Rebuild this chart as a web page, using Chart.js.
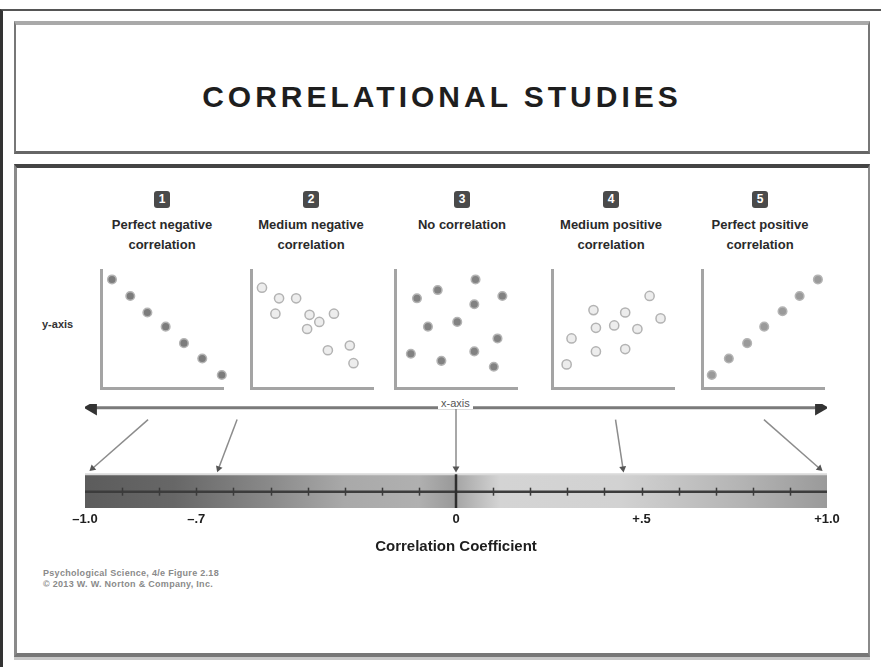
<!DOCTYPE html>
<html>
<head>
<meta charset="utf-8">
<script src="https://cdn.jsdelivr.net/npm/chart.js"></script>
<style>
  html, body { margin: 0; padding: 0; background: #fff; }
  body { width: 881px; height: 667px; position: relative; overflow: hidden; font-family: "Liberation Sans", Arial, sans-serif; }
  .abs { position: absolute; }
  #outer { left: 0; top: 9px; width: 881px; height: 660px; border-top: 2px solid #555; border-left: 3px solid #333; box-sizing: border-box; }
  #titleBox { left: 14px; top: 21px; width: 856px; height: 133px; box-sizing: border-box;
    border-top: 4px solid #a9a9a9; border-left: 2px solid #777; border-right: 2px solid #777; border-bottom: 3px solid #666; }
  #title { left: 14px; top: 82px; width: 856px; text-align: center; font-size: 30px; line-height: 30px;
    font-weight: bold; letter-spacing: 4px; color: #1e1e1e; }
  #mainBox { left: 14px; top: 164px; width: 856px; height: 493px; box-sizing: border-box;
    border-top: 4px solid #444; border-left: 3px solid #8a8a8a; border-right: 2px solid #8a8a8a; border-bottom: 4px solid #777;
    box-shadow: 0 3px 0 #c8c8c8; }
  .badge { width: 16px; height: 17px; margin-left: -8px; background: #4a4a4a; color: #fff; border-radius: 3px;
    font-size: 12px; font-weight: bold; line-height: 17px; text-align: center; top: 191px; }
  .lbl { width: 150px; margin-left: -75px; text-align: center; font-size: 13px; font-weight: bold; line-height: 20px;
    color: #2a2a2a; top: 215px; }
  #yLabel { left: 42px; top: 318px; font-size: 11px; font-weight: bold; color: #333; }
  #xLabel { left: 438px; top: 397px; padding: 0 3px; background: #fff; font-size: 11px; color: #555; }
  #credit { left: 43px; top: 568px; font-size: 9px; line-height: 11px; font-weight: bold; color: #8a8a8a; letter-spacing: 0.3px; }
  canvas { position: absolute; }
</style>
</head>
<body>
<div id="outer" class="abs"></div>
<div id="titleBox" class="abs"></div>
<div id="title" class="abs">CORRELATIONAL STUDIES</div>
<div id="mainBox" class="abs"></div>

<div id="headers"></div>
<div id="yLabel" class="abs">y-axis</div>

<canvas id="p1" width="138" height="134"></canvas>
<canvas id="p2" width="138" height="134"></canvas>
<canvas id="p3" width="138" height="134"></canvas>
<canvas id="p4" width="138" height="134"></canvas>
<canvas id="p5" width="138" height="134"></canvas>

<canvas id="spectrum" width="881" height="165" style="left:0;top:395px;"></canvas>
<div id="xLabel" class="abs">x-axis</div>

<div id="credit" class="abs">Psychological Science, 4/e Figure 2.18<br>© 2013 W. W. Norton &amp; Company, Inc.</div>

<script>
// ---- DATA ----
const panelTitles = [
  ["Perfect negative", "correlation"],
  ["Medium negative", "correlation"],
  ["No correlation"],
  ["Medium positive", "correlation"],
  ["Perfect positive", "correlation"],
];

// 1 - perfect negative
const perfectNegX = [0.9, 2.4, 3.8, 5.3, 6.8, 8.3, 9.9];
const perfectNegY = [9.2, 7.8, 6.4, 5.2, 3.8, 2.5, 1.1];
// 2 - medium negative
const mediumNegX = [0.9, 2.3, 3.7, 2.0, 4.8, 5.6, 4.6, 6.8, 6.3, 8.1, 8.4];
const mediumNegY = [8.5, 7.6, 7.6, 6.3, 6.2, 5.6, 5.0, 6.3, 3.2, 3.6, 2.1];
// 3 - no correlation
const noCorrX = [1.8, 3.5, 6.6, 6.5, 8.8, 2.7, 5.1, 8.4, 1.3, 3.8, 6.5, 8.1];
const noCorrY = [7.6, 8.3, 9.2, 7.1, 7.8, 5.2, 5.6, 4.2, 2.9, 2.3, 3.1, 1.8];
// 4 - medium positive
const mediumPosX = [1.2, 1.6, 3.4, 3.6, 3.6, 5.1, 6.0, 6.0, 7.0, 8.0, 8.9];
const mediumPosY = [2.0, 4.2, 6.6, 5.1, 3.1, 5.3, 6.4, 3.3, 5.0, 7.8, 5.9];
// 5 - perfect positive
const perfectPosX = [0.8, 2.2, 3.7, 5.1, 6.6, 8.0, 9.5];
const perfectPosY = [1.1, 2.5, 3.8, 5.2, 6.5, 7.8, 9.2];

// correlation coefficient scale
const coeffTicks = [-1.0, -0.7, 0, 0.5, 1.0];
const coeffLabels = ["\u20131.0", "\u2013.7", "0", "+.5", "+1.0"];
const coeffStep = 0.1; // small tick marks along the bar
// arrows from each panel down to its coefficient
const arrowFrom = [-0.83, -0.59, 0, 0.43, 0.83];
const arrowTo = [-0.98, -0.64, 0, 0.45, 0.98];

// ---- LAYOUT ----
const panelLeft = [101, 251, 395, 552, 702];
const panelCenter = [162, 311, 462, 611, 760];
const PANEL_TOP = 270;
const PAD = 8;

// y positions (0..100) inside the spectrum chart
const BAR_TOP = 32.4;
const BAR_MID = 15.7;
const AXIS_Y = 96.5;
const ARROW_START_Y = 85;
const ARROW_END_Y = 38;

// ---- HEADERS ----
const headers = document.getElementById("headers");
panelTitles.forEach((lines, i) => {
  const b = document.createElement("div");
  b.className = "abs badge";
  b.style.left = panelCenter[i] + "px";
  b.textContent = String(i + 1);
  headers.appendChild(b);
  const l = document.createElement("div");
  l.className = "abs lbl";
  l.style.left = panelCenter[i] + "px";
  l.innerHTML = lines.join("<br>");
  headers.appendChild(l);
});

// ---- SCATTER PANELS ----
const darkDot = { bg: "#7c7c7c", border: "#b4b4b4", r: 4.3 };
const lightDot = { bg: "#ededed", border: "#b3b3b3", r: 4.6 };

function makePanel(id, xs, ys, dot, left, fill) {
  const el = document.getElementById(id);
  el.style.left = left - PAD + "px";
  el.style.top = PANEL_TOP - PAD + "px";
  const axisOpts = {
    type: "linear",
    min: 0,
    max: 10,
    ticks: { display: false },
    grid: { display: false, drawTicks: false },
    border: { display: true, color: "#a4a4a4", width: 3 },
  };
  return new Chart(el, {
    type: "scatter",
    data: {
      datasets: [
        {
          data: xs.map((x, i) => ({ x: x, y: ys[i] })),
          backgroundColor: fill || dot.bg,
          borderColor: dot.border,
          borderWidth: 1.5,
          pointRadius: dot.r,
          clip: false,
        },
      ],
    },
    options: {
      responsive: false,
      animation: false,
      events: [],
      layout: { padding: PAD },
      plugins: { legend: { display: false }, tooltip: { enabled: false } },
      scales: { x: { ...axisOpts, position: "bottom" }, y: { ...axisOpts, position: "left" } },
    },
  });
}

makePanel("p1", perfectNegX, perfectNegY, darkDot, panelLeft[0]);
makePanel("p2", mediumNegX, mediumNegY, lightDot, panelLeft[1]);
makePanel("p3", noCorrX, noCorrY, darkDot, panelLeft[2], "#828282");
makePanel("p4", mediumPosX, mediumPosY, lightDot, panelLeft[3]);
makePanel("p5", perfectPosX, perfectPosY, darkDot, panelLeft[4], "#9a9a9a");

// ---- SPECTRUM (correlation coefficient bar) ----
function barGradient(ctx) {
  const chart = ctx.chart;
  if (!chart.chartArea) return "#999";
  const sx = chart.scales.x;
  const x0 = sx.getPixelForValue(-1);
  const x1 = sx.getPixelForValue(1);
  const g = chart.ctx.createLinearGradient(x0, 0, x1, 0);
  g.addColorStop(0.0, "#5c5c5c");
  g.addColorStop(0.12, "#676767");
  g.addColorStop(0.25, "#8a8a8a");
  g.addColorStop(0.35, "#a9a9a9");
  g.addColorStop(0.45, "#b0b0b0");
  g.addColorStop(0.499, "#999999");
  g.addColorStop(0.501, "#a6a6a6");
  g.addColorStop(0.56, "#d4d4d4");
  g.addColorStop(0.72, "#d2d2d2");
  g.addColorStop(0.88, "#b5b5b5");
  g.addColorStop(1.0, "#9a9a9a");
  return g;
}

function arrowAngle(chart, from, to) {
  const sx = chart.scales.x;
  const sy = chart.scales.y;
  const dx = sx.getPixelForValue(to.x) - sx.getPixelForValue(from.x);
  const dy = sy.getPixelForValue(to.y) - sy.getPixelForValue(from.y);
  return (Math.atan2(dx, -dy) * 180) / Math.PI;
}

// small marks across the center line, at the ticks of the hidden "xt" scale
const barTicks = {
  id: "barTicks",
  afterDatasetsDraw(chart) {
    const s = chart.scales.xt;
    const y = chart.scales.y.getPixelForValue(BAR_MID);
    const c = chart.ctx;
    c.save();
    c.strokeStyle = "#3a3a3a";
    c.lineWidth = 1.5;
    s.ticks.forEach((t) => {
      if (Math.abs(t.value) < 1e-6 || Math.abs(t.value) > 0.999) return;
      const x = Math.round(s.getPixelForValue(t.value)) + 0.5;
      c.beginPath();
      c.moveTo(x, y - 4);
      c.lineTo(x, y + 4);
      c.stroke();
    });
    c.restore();
  },
};

const connectorSets = arrowFrom.map((fx, i) => {
  const pts = [
    { x: fx, y: i === 2 ? AXIS_Y : ARROW_START_Y },
    { x: arrowTo[i], y: ARROW_END_Y },
  ];
  return {
    type: "line",
    data: pts,
    borderColor: "#8c8c8c",
    borderWidth: 1.5,
    pointRadius: [0, 4],
    pointStyle: "triangle",
    pointBackgroundColor: "#555",
    pointBorderColor: "#555",
    pointBorderWidth: 0,
    pointRotation: (c) => arrowAngle(c.chart, pts[0], pts[1]),
    order: 1,
  };
});

new Chart(document.getElementById("spectrum"), {
  type: "line",
  data: {
    datasets: [
      // gradient band
      {
        data: [
          { x: -1, y: BAR_TOP },
          { x: 1, y: BAR_TOP },
        ],
        borderColor: "#dadada",
        borderWidth: 2,
        pointRadius: 0,
        fill: { value: 0 },
        backgroundColor: barGradient,
        order: 5,
      },
      // center line
      {
        data: [
          { x: -1, y: BAR_MID },
          { x: 1, y: BAR_MID },
        ],
        borderColor: "#3c3c3c",
        borderWidth: 2.5,
        pointRadius: 0,
        order: 3,
      },
      // zero line
      {
        data: [
          { x: 0, y: 0 },
          { x: 0, y: BAR_TOP },
        ],
        borderColor: "#2e2e2e",
        borderWidth: 2.5,
        pointRadius: 0,
        order: 2,
      },
      // x-axis arrow
      {
        data: [
          { x: -0.98, y: AXIS_Y },
          { x: 0.98, y: AXIS_Y },
        ],
        borderColor: "#7a7a7a",
        borderWidth: 3,
        pointRadius: 6,
        pointStyle: "triangle",
        pointRotation: [-90, 90],
        pointBackgroundColor: "#333",
        pointBorderColor: "#333",
        order: 1,
      },
      ...connectorSets,
    ],
  },
  plugins: [barTicks],
  options: {
    responsive: false,
    animation: false,
    events: [],
    layout: { padding: { left: 85, right: 54, top: 5, bottom: 0 } },
    plugins: { legend: { display: false }, tooltip: { enabled: false } },
    scales: {
      x: {
        type: "linear",
        min: -1,
        max: 1,
        grid: { display: false, drawTicks: false },
        border: { display: false },
        afterBuildTicks: (s) => {
          s.ticks = coeffTicks.map((v) => ({ value: v }));
        },
        afterFit: (s) => {
          s.height = 52;
        },
        ticks: {
          autoSkip: false,
          maxRotation: 0,
          padding: 4,
          color: "#1e1e1e",
          font: { family: "Liberation Sans", size: 13, weight: "bold" },
          callback: (v) => coeffLabels[coeffTicks.indexOf(v)],
        },
        title: {
          display: true,
          text: "Correlation Coefficient",
          color: "#1e1e1e",
          font: { family: "Liberation Sans", size: 15, weight: "bold" },
          padding: { top: 6 },
        },
      },
      xt: {
        type: "linear",
        axis: "x",
        min: -1,
        max: 1,
        position: "center",
        ticks: { stepSize: coeffStep, autoSkip: false, color: "rgba(0,0,0,0)", font: { size: 1 } },
        grid: { display: false, drawTicks: false },
        border: { display: false },
      },
      y: { type: "linear", min: 0, max: 100, display: false },
    },
  },
});
</script>
</body>
</html>
